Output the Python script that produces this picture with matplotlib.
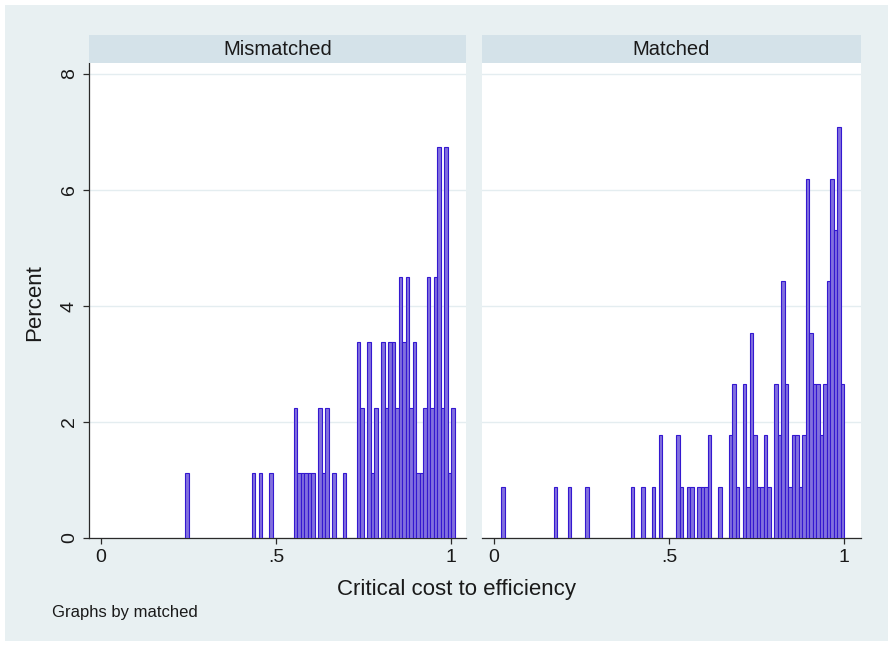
import matplotlib
matplotlib.use("Agg")
import matplotlib.pyplot as plt
from matplotlib.patches import Rectangle

plt.rcParams['font.family'] = ['Liberation Sans', 'DejaVu Sans']

# ---------------- data ----------------
panel_titles = ["Mismatched", "Matched"]
bin_width = 0.01

mismatched_bins = [0.24, 0.43, 0.45, 0.48, 0.55, 0.56, 0.57, 0.58, 0.59, 0.60,
                   0.62, 0.63, 0.64, 0.66, 0.69, 0.73, 0.74, 0.76, 0.77, 0.78,
                   0.80, 0.81, 0.82, 0.83, 0.84, 0.85, 0.86, 0.87, 0.88, 0.89,
                   0.90, 0.91, 0.92, 0.93, 0.94, 0.95, 0.96, 0.97, 0.98, 0.99, 1.00]
mismatched_counts = [1, 1, 1, 1, 2, 1, 1, 1, 1, 1,
                     2, 1, 2, 1, 1, 3, 2, 3, 1, 2,
                     3, 2, 3, 3, 2, 4, 3, 4, 2, 3,
                     1, 1, 2, 4, 2, 4, 6, 2, 6, 1, 2]

matched_bins = [0.02, 0.17, 0.21, 0.26, 0.39, 0.42, 0.45, 0.47, 0.52, 0.53,
                0.55, 0.56, 0.58, 0.59, 0.60, 0.61, 0.64, 0.67, 0.68, 0.69,
                0.71, 0.72, 0.73, 0.74, 0.75, 0.76, 0.77, 0.78, 0.80, 0.81,
                0.82, 0.83, 0.84, 0.85, 0.86, 0.87, 0.88, 0.89, 0.90, 0.91,
                0.92, 0.93, 0.94, 0.95, 0.96, 0.97, 0.98, 0.99]
matched_counts = [1, 1, 1, 1, 1, 1, 1, 2, 2, 1,
                  1, 1, 1, 1, 1, 2, 1, 2, 3, 1,
                  3, 1, 4, 2, 1, 1, 2, 1, 3, 2,
                  5, 3, 1, 2, 2, 1, 2, 7, 4, 3,
                  3, 2, 3, 5, 7, 6, 8, 3]

x_ticks = [0, 0.5, 1]
x_tick_labels = ["0", ".5", "1"]
y_ticks = [0, 2, 4, 6, 8]
y_tick_labels = ["0", "2", "4", "6", "8"]
x_title = "Critical cost to efficiency"
y_title = "Percent"
note_text = "Graphs by matched"

# ---------------- style ----------------
W, H = 888, 645
outer_bg = '#e8f0f2'
strip_bg = '#d4e2e9'
grid_col = '#e4edf0'
bar_fill = '#8270de'
bar_edge = '#3418d0'
axis_col = '#2a2a2a'
text_col = '#1a1a1a'

fig = plt.figure(figsize=(W / 100, H / 100), dpi=100)
fig.patch.set_facecolor('white')
fig.patches.append(Rectangle((5 / W, 4 / H), (W - 5) / W, (H - 9) / H,
                             transform=fig.transFigure, facecolor=outer_bg,
                             edgecolor='none', zorder=-5))

px_per_unit = 350.0
panels = [
    dict(left=89, right=466, zero=101, bins=mismatched_bins, counts=mismatched_counts, yaxis=True),
    dict(left=482, right=861, zero=494, bins=matched_bins, counts=matched_counts, yaxis=False),
]
top, bottom = 63, 538
y_px_per_unit = 58.0

for title, p in zip(panel_titles, panels):
    ax = fig.add_axes([p['left'] / W, (H - bottom) / H,
                       (p['right'] - p['left']) / W, (bottom - top) / H])
    ax.set_facecolor('white')
    n_total = sum(p['counts'])
    pct = [c / n_total * 100 for c in p['counts']]
    ax.bar(p['bins'], pct, width=bin_width, align='edge',
           facecolor=bar_fill, edgecolor=bar_edge, linewidth=0.8, zorder=3)
    ax.set_xlim((p['left'] - p['zero']) / px_per_unit,
                (p['right'] - p['zero']) / px_per_unit)
    ax.set_ylim(0, (bottom - top) / y_px_per_unit)
    ax.set_yticks(y_ticks)
    ax.set_yticklabels(y_tick_labels)
    ax.set_xticks(x_ticks)
    ax.set_xticklabels(x_tick_labels)
    ax.yaxis.grid(True, color=grid_col, linewidth=1.0)
    ax.set_axisbelow(True)
    for s in ['top', 'right']:
        ax.spines[s].set_visible(False)
    ax.spines['bottom'].set_color(axis_col)
    ax.spines['bottom'].set_linewidth(0.9)
    ax.tick_params(axis='x', length=4, width=0.9, color=axis_col,
                   labelsize=14, labelcolor=text_col, pad=4)
    if p['yaxis']:
        ax.spines['left'].set_color(axis_col)
        ax.spines['left'].set_linewidth(0.9)
        ax.tick_params(axis='y', length=4, width=0.9, color=axis_col,
                       labelsize=14, labelcolor=text_col, pad=4)
        for lab in ax.get_yticklabels():
            lab.set_rotation(90)
            lab.set_va('center')
    else:
        ax.spines['left'].set_visible(False)
        ax.tick_params(axis='y', left=False, labelleft=False)

    # title strip
    sax = fig.add_axes([p['left'] / W, (H - 63) / H, (p['right'] - p['left']) / W, 28 / H])
    sax.set_facecolor(strip_bg)
    sax.set_xticks([])
    sax.set_yticks([])
    for s in sax.spines.values():
        s.set_visible(False)
    sax.text(0.5, 0.47, title, ha='center', va='center', fontsize=14.5,
             color=text_col, transform=sax.transAxes)

fig.text(35 / W, 1 - 303 / H, y_title, rotation=90, ha='center', va='center',
         fontsize=16, color=text_col)
fig.text(456 / W, 1 - 590 / H, x_title, ha='center', va='center',
         fontsize=16, color=text_col)
fig.text(52 / W, 1 - 612 / H, note_text, ha='left', va='center',
         fontsize=12, color=text_col)

fig.savefig("out.png", dpi=100, facecolor=fig.get_facecolor())
